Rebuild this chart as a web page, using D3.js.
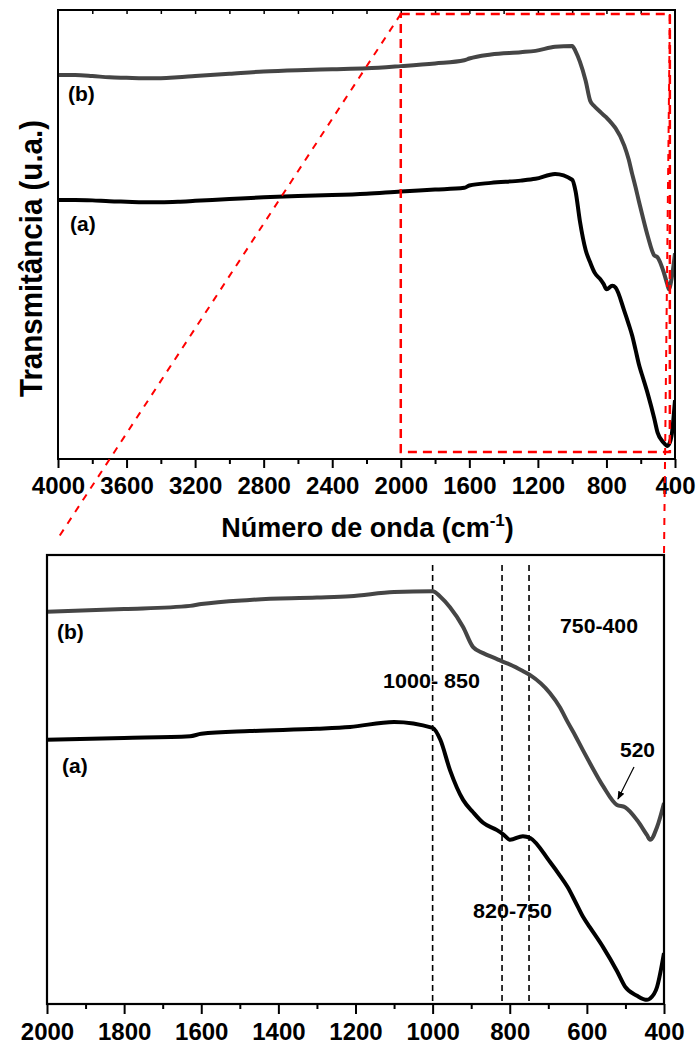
<!DOCTYPE html>
<html>
<head>
<meta charset="utf-8">
<script src="https://cdn.jsdelivr.net/npm/d3@7"></script>
<style>
  html, body { margin: 0; padding: 0; background: #fff; }
  svg { display: block; }
  text { font-family: "Liberation Sans", Arial, sans-serif; font-weight: bold; fill: #000; }
</style>
</head>
<body>
<svg id="chart" width="699" height="1046"></svg>
<script>
// ---------------- DATA ----------------
const wavenumbers = [4000,3900,3800,3700,3600,3500,3400,3300,3200,3000,2800,2600,2400,2200,2000,1800,1629,1600,1474,1300,1214,1100,1000,980,955,921,895,869,833,817,799,766,747,696,670,650,630,610,592,558,522,501,470,444,436,418,400];
const seriesA = [57.7,57.7,57.6,57.4,57.3,57.2,57.2,57.3,57.5,57.9,58.3,58.6,58.8,59.1,59.6,60.0,60.4,60.9,61.5,62.0,62.4,63.5,62.2,59.6,53.0,46.5,43.8,41.5,39.9,39.0,37.8,38.6,38.2,33.0,30.0,27.5,24.3,21.0,18.7,14.4,9.2,5.8,3.8,2.9,3.2,5.7,13.1];
const seriesB = [85.5,85.5,85.3,85.0,84.9,84.8,84.8,85.0,85.3,85.8,86.3,86.6,86.8,87.0,87.5,88.1,88.8,89.2,90.1,90.6,90.9,91.8,92.0,90.8,88.5,84.2,79.8,78.5,77.2,76.6,76.0,74.6,73.7,69.8,66.7,63.5,60.5,57.3,54.5,49.5,45.4,44.9,42.1,38.8,37.8,40.6,45.8];
const seriesNames = ["(a)", "(b)"];
const topTicks = [4000,3600,3200,2800,2400,2000,1600,1200,800,400];
const topMinorTicks = [3800,3400,3000,2600,2200,1800,1400,1000,600];
const bottomTicks = [2000,1800,1600,1400,1200,1000,800,600,400];
const bottomMinorTicks = [1900,1700,1500,1300,1100,900,700,500];
const bandLines = [1000,820,750];
const bandLabels = ["1000- 850", "820-750", "750-400", "520"];
const xTitle = "Número de onda (cm";
const yTitle = "Transmitância (u.a.)";

// ---------------- LAYOUT ----------------
const svg = d3.select("#chart");
svg.append("rect").attr("width",699).attr("height",1046).attr("fill","#fff");

const xTop = d3.scaleLinear().domain([4000,400]).range([58,675]);
const yTop = d3.scaleLinear().domain([0,100]).range([459,10]);
const xBot = d3.scaleLinear().domain([2000,400]).range([47,664]);
const yBot = d3.scaleLinear().domain([2,100]).range([1004,554.5]);

const dataA = wavenumbers.map((w,i)=>({w, v: seriesA[i]}));
const dataB = wavenumbers.map((w,i)=>({w, v: seriesB[i]}));
const colors = ["#000000", "#454545"];

// clip paths
const defs = svg.append("defs");
defs.append("clipPath").attr("id","clipTop").append("rect")
  .attr("x",xTop(4000)).attr("y",yTop(100)).attr("width",xTop(400)-xTop(4000)).attr("height",yTop(0)-yTop(100));
defs.append("clipPath").attr("id","clipBot").append("rect")
  .attr("x",xBot(2000)).attr("y",555).attr("width",xBot(400)-xBot(2000)).attr("height",yBot(2)-555);
defs.append("marker").attr("id","arrow").attr("viewBox","0 0 10 10").attr("refX",9).attr("refY",5)
  .attr("markerWidth",7).attr("markerHeight",7).attr("orient","auto-start-reverse")
  .append("path").attr("d","M0,1 L10,5 L0,9 Z").attr("fill","#000");

// ---------- TOP PANEL ----------
const gTop = svg.append("g");
const lineTop = d3.line().x(d=>xTop(d.w)).y(d=>yTop(d.v)).curve(d3.curveMonotoneX);
gTop.append("g").attr("clip-path","url(#clipTop)").selectAll("path")
  .data([dataB, dataA]).join("path")
  .attr("d", lineTop).attr("fill","none")
  .attr("stroke",(d,i)=> i===0 ? colors[1] : colors[0])
  .attr("stroke-width",4).attr("stroke-linejoin","round");

// frame
gTop.append("rect").attr("x",xTop(4000)).attr("y",yTop(100))
  .attr("width",xTop(400)-xTop(4000)).attr("height",yTop(0)-yTop(100))
  .attr("fill","none").attr("stroke","#000").attr("stroke-width",2);

// bottom axis
const axTop = gTop.append("g").attr("transform",`translate(0,${yTop(0)})`)
  .call(d3.axisBottom(xTop).tickValues(topTicks).tickSize(9).tickPadding(9).tickFormat(d3.format("d")));
axTop.select(".domain").remove();
axTop.selectAll("line").attr("stroke","#000").attr("stroke-width",2);
axTop.selectAll("text").attr("font-size",24).attr("font-family","Liberation Sans, Arial, sans-serif").attr("font-weight","bold").attr("fill","#000");
const axTopMinor = gTop.append("g").attr("transform",`translate(0,${yTop(0)})`)
  .call(d3.axisBottom(xTop).tickValues(topMinorTicks).tickSize(5).tickFormat(""));
axTopMinor.select(".domain").remove();
axTopMinor.selectAll("line").attr("stroke","#000").attr("stroke-width",2);
// top border inward ticks
const axTopUpper = gTop.append("g").attr("transform",`translate(0,${yTop(100)})`)
  .call(d3.axisBottom(xTop).tickValues(topMinorTicks.concat(topTicks.slice(1,-1))).tickSize(4).tickFormat(""));
axTopUpper.select(".domain").remove();
axTopUpper.selectAll("line").attr("stroke","#000").attr("stroke-width",1.5);

// series labels top
gTop.append("text").attr("x",68).attr("y",101).attr("font-size",21).text(seriesNames[1]);
gTop.append("text").attr("x",70).attr("y",231).attr("font-size",21).text(seriesNames[0]);

// axis titles
const xt = svg.append("text").attr("x",(xTop(4000)+xTop(400))/2+1).attr("y",537)
  .attr("text-anchor","middle").attr("font-size",27);
xt.append("tspan").text(xTitle);
xt.append("tspan").attr("font-size",17).attr("dy",-11).text("-1");
xt.append("tspan").attr("dy",11).text(")");

svg.append("text").attr("transform",`translate(42,${(120+397)/2}) rotate(-90)`)
  .attr("text-anchor","middle").attr("font-size",32)
  .attr("textLength",277).attr("lengthAdjust","spacingAndGlyphs").text(yTitle);

// ---------- BOTTOM PANEL ----------
const gBot = svg.append("g");
// band dashed lines
gBot.selectAll("line.band").data(bandLines).join("line").attr("class","band")
  .attr("x1",d=>xBot(d)).attr("x2",d=>xBot(d)).attr("y1",565).attr("y2",yBot(2))
  .attr("stroke","#000").attr("stroke-width",1.6).attr("stroke-dasharray","6,4");

const lineBot = d3.line().x(d=>xBot(d.w)).y(d=>yBot(d.v)).curve(d3.curveMonotoneX);
gBot.append("g").attr("clip-path","url(#clipBot)").selectAll("path")
  .data([dataB.filter(d=>d.w<=2000), dataA.filter(d=>d.w<=2000)]).join("path")
  .attr("d", lineBot).attr("fill","none")
  .attr("stroke",(d,i)=> i===0 ? colors[1] : colors[0])
  .attr("stroke-width",4).attr("stroke-linejoin","round");

gBot.append("rect").attr("x",xBot(2000)).attr("y",555)
  .attr("width",xBot(400)-xBot(2000)).attr("height",yBot(2)-555)
  .attr("fill","none").attr("stroke","#000").attr("stroke-width",2.2);

const axBot = gBot.append("g").attr("transform",`translate(0,${yBot(2)})`)
  .call(d3.axisBottom(xBot).tickValues(bottomTicks).tickSize(10).tickPadding(9).tickFormat(d3.format("d")));
axBot.select(".domain").remove();
axBot.selectAll("line").attr("stroke","#000").attr("stroke-width",2);
axBot.selectAll("text").attr("font-size",24).attr("font-family","Liberation Sans, Arial, sans-serif").attr("font-weight","bold").attr("fill","#000");
const axBotMinor = gBot.append("g").attr("transform",`translate(0,${yBot(2)})`)
  .call(d3.axisBottom(xBot).tickValues(bottomMinorTicks).tickSize(5).tickFormat(""));
axBotMinor.select(".domain").remove();
axBotMinor.selectAll("line").attr("stroke","#000").attr("stroke-width",2);

// labels
gBot.append("text").attr("x",57).attr("y",639).attr("font-size",21).text(seriesNames[1]);
gBot.append("text").attr("x",62).attr("y",773).attr("font-size",21).text(seriesNames[0]);
gBot.append("text").attr("x",383).attr("y",688).attr("font-size",21).attr("textLength",97).attr("lengthAdjust","spacingAndGlyphs").text(bandLabels[0]);
gBot.append("text").attr("x",473).attr("y",918).attr("font-size",21).attr("textLength",79).attr("lengthAdjust","spacingAndGlyphs").text(bandLabels[1]);
gBot.append("text").attr("x",560).attr("y",633).attr("font-size",21).attr("textLength",78).attr("lengthAdjust","spacingAndGlyphs").text(bandLabels[2]);
gBot.append("text").attr("x",620).attr("y",757).attr("font-size",21).attr("textLength",35).attr("lengthAdjust","spacingAndGlyphs").text(bandLabels[3]);
// arrow to 520 shoulder
gBot.append("line").attr("x1",634).attr("y1",767).attr("x2",xBot(522)+1).attr("y2",yBot(45.4)-6)
  .attr("stroke","#000").attr("stroke-width",1.2).attr("marker-end","url(#arrow)");

// ---------- ZOOM CONNECTORS ----------
const boxW0 = 2000, boxW1 = 430, boxV0 = 1.56, boxV1 = 99.1;
const red = svg.append("g").attr("fill","none").attr("stroke","#ff0000");
red.append("rect").attr("x",xTop(boxW0)).attr("y",yTop(boxV1))
  .attr("width",xTop(boxW1)-xTop(boxW0)).attr("height",yTop(boxV0)-yTop(boxV1))
  .attr("stroke-width",2.5).attr("stroke-dasharray","9,6");
// diagonal to bottom-left corner (stops slightly short)
const p0 = [xTop(boxW0), yTop(boxV1)], p1 = [xBot(2000), 555];
const t = 0.972;
red.append("line").attr("x1",p0[0]).attr("y1",p0[1])
  .attr("x2",p0[0]+(p1[0]-p0[0])*t).attr("y2",p0[1]+(p1[1]-p0[1])*t)
  .attr("stroke-width",2).attr("stroke-dasharray","7,7");
red.append("line").attr("x1",xTop(boxW1)).attr("y1",yTop(boxV1))
  .attr("x2",xBot(400)).attr("y2",555)
  .attr("stroke-width",2).attr("stroke-dasharray","7,7");
</script>
</body>
</html>
